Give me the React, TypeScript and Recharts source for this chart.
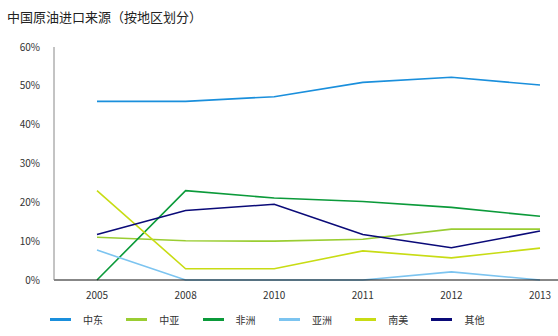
import { LineChart, Line, XAxis, YAxis } from "recharts";

const years = ["2005", "2008", "2010", "2011", "2012", "2013"];
const middleEast = [46.0, 46.0, 47.2, 50.9, 52.2, 50.2];
const centralAsia = [11.0, 10.1, 10.0, 10.5, 13.1, 13.1];
const africa = [0, 23.0, 21.1, 20.2, 18.7, 16.4];
const asia = [7.7, 0, 0, 0, 2.1, 0];
const southAmerica = [23.0, 2.9, 2.9, 7.5, 5.7, 8.2];
const others = [11.7, 17.9, 19.5, 11.7, 8.3, 12.6];
const yTicks = [0, 10, 20, 30, 40, 50, 60];

const seriesList = [
  { key: "me", name: "中东", values: middleEast, color: "#1a8fdc" },
  { key: "ca", name: "中亚", values: centralAsia, color: "#9acd32" },
  { key: "af", name: "非洲", values: africa, color: "#0b9a3a" },
  { key: "as", name: "亚洲", values: asia, color: "#7cc4f0" },
  { key: "sa", name: "南美", values: southAmerica, color: "#c8dc14" },
  { key: "ot", name: "其他", values: others, color: "#0a0a78" },
];

const data = years.map((year, i) => {
  const row: Record<string, string | number> = { year };
  seriesList.forEach((s) => (row[s.key] = s.values[i]));
  return row;
});

const font = "'Noto Sans CJK SC', 'Noto Sans', sans-serif";

function LegendRow() {
  return (
    <div
      style={{
        position: "absolute", left: 50, top: 312, display: "flex",
        fontFamily: font, fontSize: 10, color: "#333",
      }}
    >
      {seriesList.map((s) => (
        <div key={s.key} style={{ width: 76.3, display: "flex", alignItems: "center" }}>
          <span style={{ display: "inline-block", width: 21, height: 2.5, background: s.color, marginRight: 12 }} />
          <span>{s.name}</span>
        </div>
      ))}
    </div>
  );
}

export default function App() {
  return (
    <div style={{ position: "fixed", left: 0, top: 0, width: 558, height: 336, background: "#fff" }}>
      <div style={{ position: "absolute", left: 7, top: 7, fontFamily: font, fontSize: 13, color: "#222" }}>
        中国原油进口来源（按地区划分）
      </div>
      <LineChart width={558} height={336} data={data} margin={{ top: 47, right: 0, bottom: 26, left: 0 }}>
        <XAxis
          dataKey="year"
          height={30}
          padding={{ left: 43, right: 18 }}
          axisLine={{ stroke: "#111", strokeWidth: 1.2 }}
          tickLine={false}
          tick={{ fill: "#333", fontSize: 10, fontFamily: font }}
          tickMargin={6}
        />
        <YAxis
          width={54}
          domain={[0, 60]}
          ticks={yTicks}
          tickFormatter={(v) => `${v}%`}
          axisLine={{ stroke: "#888" }}
          tickLine={false}
          tick={{ fill: "#333", fontSize: 10, fontFamily: font }}
          tickMargin={8}
        />
        {seriesList.map((s) => (
          <Line
            key={s.key}
            dataKey={s.key}
            name={s.name}
            stroke={s.color}
            strokeWidth={1.6}
            dot={false}
            type="linear"
            isAnimationActive={false}
          />
        ))}
      </LineChart>
      <LegendRow />
    </div>
  );
}
